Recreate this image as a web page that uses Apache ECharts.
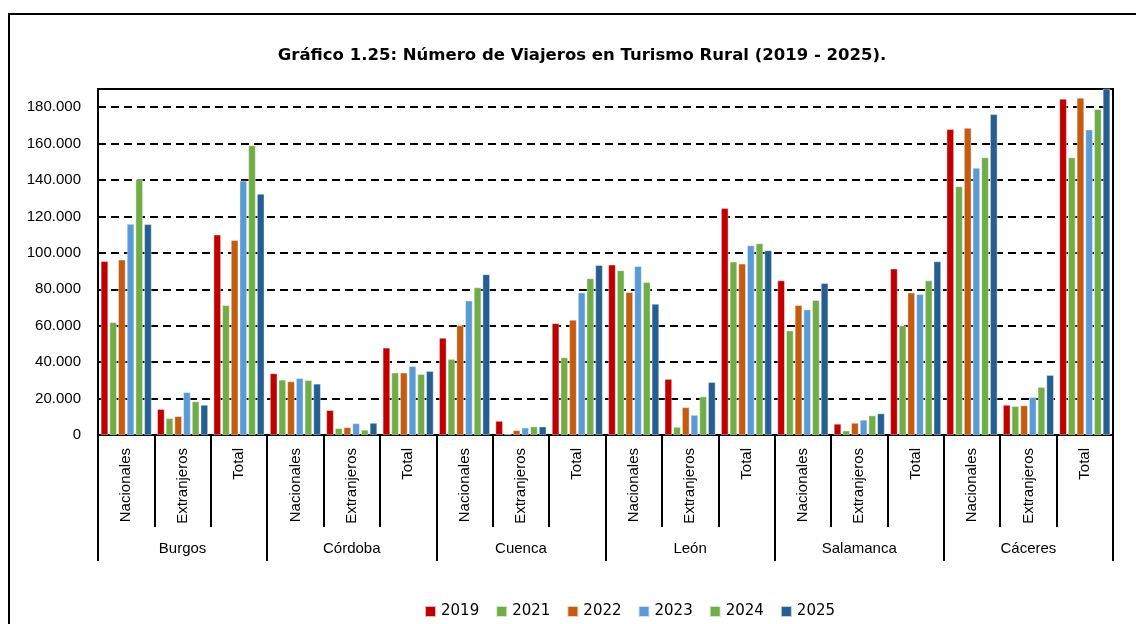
<!DOCTYPE html>
<html>
<head>
<meta charset="utf-8">
<script src="https://cdn.jsdelivr.net/npm/echarts@6/dist/echarts.min.js"></script>
<style>
  html, body { margin: 0; padding: 0; background: #fff; }
  #main { width: 1136px; height: 624px; }
</style>
</head>
<body>
<div id="main"></div>
<script>
// categorías
const subCats = ['Nacionales', 'Extranjeros', 'Total'];
const regions = ['Burgos', 'Córdoba', 'Cuenca', 'León', 'Salamanca', 'Cáceres'];
const years = ['2019', '2021', '2022', '2023', '2024', '2025'];

// valores (Burgos N,E,T, Córdoba N,E,T, Cuenca ..., León ..., Salamanca ..., Cáceres ...)
const v2019 = [95500, 14200, 110000, 33800, 13600, 47900, 53300, 7700, 61300, 93500, 30700, 124500, 84800, 6100, 91300, 167900, 16500, 184600];
const v2021 = [61900, 9200, 71300, 30300, 3700, 34200, 41700, 600, 42600, 90400, 4400, 95100, 57300, 2400, 60100, 136500, 15800, 152400];
const v2022 = [96200, 10300, 107000, 29400, 4200, 34200, 60200, 2600, 63200, 78400, 15200, 94000, 71300, 6600, 78100, 168600, 16200, 185100];
const v2023 = [115900, 23500, 139600, 31200, 6400, 37800, 73800, 4000, 78200, 92700, 11000, 104100, 68900, 8300, 77300, 146700, 20800, 167700];
const v2024 = [140500, 18400, 159000, 30100, 2800, 33400, 81000, 4600, 86000, 83900, 21100, 105200, 74000, 10700, 84800, 152400, 26300, 178900];
const v2025 = [115700, 16500, 132400, 28100, 6600, 35100, 88200, 4600, 93300, 72000, 29000, 101400, 83400, 11800, 95300, 176100, 32900, 192000];

const colors = ['#C00000', '#70AD47', '#C55A11', '#5B9BD5', '#70AD47', '#255E91'];
const allValues = [v2019, v2021, v2022, v2023, v2024, v2025];

let xCats = [];
regions.forEach(() => { xCats = xCats.concat(subCats); });

function fmtMiles(v){
    if (v % 20000 !== 0) return '';
    return String(v).replace(/\B(?=(\d{3})+(?!\d))/g, '.');
}

let myChart = echarts.init(document.getElementById('main'));
myChart.setOption({
    animation: false,
    color: colors,
    title: {
        text: 'Gráfico 1.25: Número de Viajeros en Turismo Rural (2019 - 2025).',
        left: 577, top: 42, textAlign: 'center',
        textStyle: { fontFamily: 'DejaVu Sans', fontWeight: 'bold', fontSize: 16.5, color: '#000' }
    },
    graphic: [{
        type: 'rect',
        shape: { x: 9, y: 14, width: 1300, height: 800 },
        style: { fill: 'none', stroke: '#000', lineWidth: 2 },
        silent: true
    }],
    legend: {
        data: years,
        left: 419, top: 599,
        itemWidth: 11, itemHeight: 11, itemGap: 16,
        icon: 'rect',
        textStyle: { fontFamily: 'DejaVu Sans', fontSize: 15, color: '#000' }
    },
    grid: {
        left: 98, top: 89, right: 23, bottom: 189,
        show: true, borderColor: '#000', borderWidth: 2, containLabel: false
    },
    xAxis: [{
        type: 'category',
        data: xCats,
        position: 'bottom',
        axisLine: { lineStyle: { color: '#000', width: 2 } },
        axisTick: { show: true, interval: 0, length: 92, lineStyle: { color: '#000', width: 2 } },
        axisLabel: {
            interval: 0, rotate: 90, margin: 13,
            fontFamily: 'Liberation Sans', fontSize: 15, color: '#000'
        }
    }, {
        type: 'category',
        data: regions,
        position: 'bottom',
        axisLine: { show: false },
        axisTick: { show: true, interval: 0, length: 126, lineStyle: { color: '#000', width: 2 } },
        axisLabel: {
            interval: 0, margin: 106,
            fontFamily: 'Liberation Sans', fontSize: 15, color: '#000'
        }
    }],
    yAxis: {
        type: 'value',
        min: 0, max: 190000, interval: 20000,
        axisLine: { show: true, lineStyle: { color: '#000', width: 2 } },
        axisTick: { show: false },
        axisLabel: {
            margin: 17, formatter: fmtMiles,
            fontFamily: 'Liberation Sans', fontSize: 15, color: '#000'
        },
        splitLine: { lineStyle: { color: '#000', width: 2, type: [8, 5] } }
    },
    series: years.map((y, i) => ({
        name: y,
        type: 'bar',
        data: allValues[i],
        barGap: '19%',
        barCategoryGap: '10%',
        itemStyle: { color: colors[i], borderColor: 'rgba(255,255,255,0.7)', borderWidth: 0.6 }
    }))
});
</script>
</body>
</html>
